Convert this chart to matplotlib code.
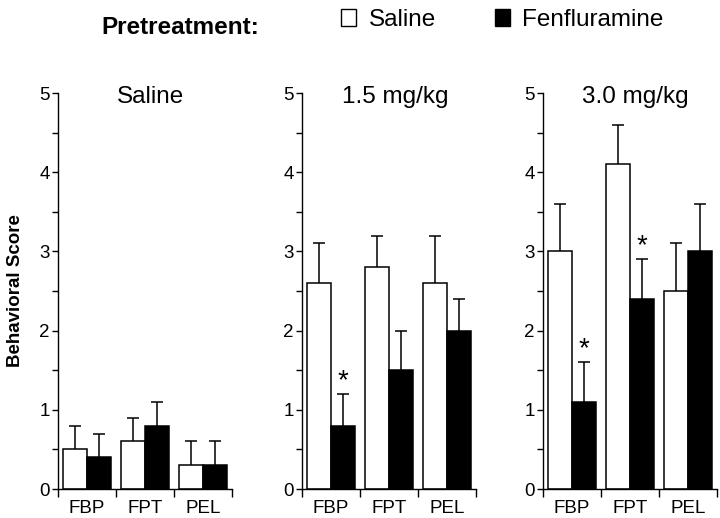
import matplotlib
matplotlib.use("Agg")
import matplotlib.pyplot as plt
from matplotlib.patches import Patch
import numpy as np

plt.rcParams['font.family'] = ['Liberation Sans', 'DejaVu Sans']

categories = ["FBP", "FPT", "PEL"]
panel_titles = ["Saline", "1.5 mg/kg", "3.0 mg/kg"]

saline_means = [[0.5, 0.6, 0.3], [2.6, 2.8, 2.6], [3.0, 4.1, 2.5]]
saline_err = [[0.3, 0.3, 0.3], [0.5, 0.4, 0.6], [0.6, 0.5, 0.6]]
fen_means = [[0.4, 0.8, 0.3], [0.8, 1.5, 2.0], [1.1, 2.4, 3.0]]
fen_err = [[0.3, 0.3, 0.3], [0.4, 0.5, 0.4], [0.5, 0.5, 0.6]]
# significance markers: (panel, category index)
signif = [(1, 0), (2, 0), (2, 1)]

fig = plt.figure(figsize=(7.2, 5.18), dpi=100)

lefts = [58 / 720, 302 / 720, 543 / 720]
width = 174 / 720
bottom = (518 - 489) / 518
height = (489 - 93) / 518

bw = 0.41
x = np.arange(len(categories))


def upper_errorbar(ax, xs, means, errs):
    cont = ax.errorbar(xs, means, yerr=[np.zeros(len(means)), errs], fmt='none',
                       ecolor='black', elinewidth=1.1, capsize=4.5, capthick=1.1, zorder=1)
    # keep only the upper caps
    for cl in cont[1]:
        if np.allclose(np.asarray(cl.get_ydata(), dtype=float), np.asarray(means, dtype=float)):
            cl.set_visible(False)


for p in range(3):
    ax = fig.add_axes([lefts[p], bottom, width, height])
    xs_w = x + 0.09 + bw / 2
    xs_b = x + 0.5 + bw / 2
    ax.bar(xs_w, saline_means[p], bw, color='white', edgecolor='black', linewidth=1.1, zorder=2)
    ax.bar(xs_b, fen_means[p], bw, color='black', edgecolor='black', linewidth=1.1, zorder=2)
    upper_errorbar(ax, xs_w, saline_means[p], saline_err[p])
    upper_errorbar(ax, xs_b, fen_means[p], fen_err[p])
    for (pp, ci) in signif:
        if pp == p:
            ytop = fen_means[p][ci] + fen_err[p][ci]
            ax.text(xs_b[ci], ytop + 0.0, '*', ha='center', va='bottom', fontsize=20)
    ax.set_xlim(0, 3)
    ax.set_ylim(0, 5)
    ax.spines['top'].set_visible(False)
    ax.spines['right'].set_visible(False)
    ax.spines['left'].set_linewidth(1.0)
    ax.spines['bottom'].set_linewidth(1.0)
    ax.set_xticks([0, 1, 2, 3])
    ax.set_xticklabels([])
    ax.set_xticks(x + 0.5, minor=True)
    ax.set_xticklabels(categories, minor=True, fontsize=13.5)
    ax.tick_params(axis='x', which='major', direction='out', length=6, width=1.0)
    ax.tick_params(axis='x', which='minor', length=0, pad=8)
    ax.set_yticks([0, 1, 2, 3, 4, 5])
    ax.set_yticks(np.arange(0.5, 5, 1.0), minor=True)
    ax.tick_params(axis='y', which='major', direction='out', length=4, width=1.0,
                   labelsize=13.5, pad=2)
    ax.tick_params(axis='y', which='minor', direction='out', length=4, width=1.0)
    ax.text(1.6, 4.95, panel_titles[p], ha='center', va='center', fontsize=17.5)
    if p == 0:
        ax.set_ylabel('Behavioral Score', fontsize=13.5, fontweight='bold', labelpad=11)

fig.text(101 / 720, 1 - 34.5 / 518, 'Pretreatment:', ha='left', va='baseline',
         fontsize=17.5, fontweight='bold')
handles = [Patch(facecolor='white', edgecolor='black', linewidth=1.0, label='Saline'),
           Patch(facecolor='black', edgecolor='black', linewidth=1.0, label='Fenfluramine')]
fig.legend(handles=handles, loc='center left', bbox_to_anchor=(341 / 720, 1 - 20 / 518),
           ncol=2, frameon=False, fontsize=17.5, handlelength=0.62, handleheight=0.66,
           handletextpad=0.53, columnspacing=2.4, borderpad=0, borderaxespad=0)

fig.savefig('out.png', dpi=100)
